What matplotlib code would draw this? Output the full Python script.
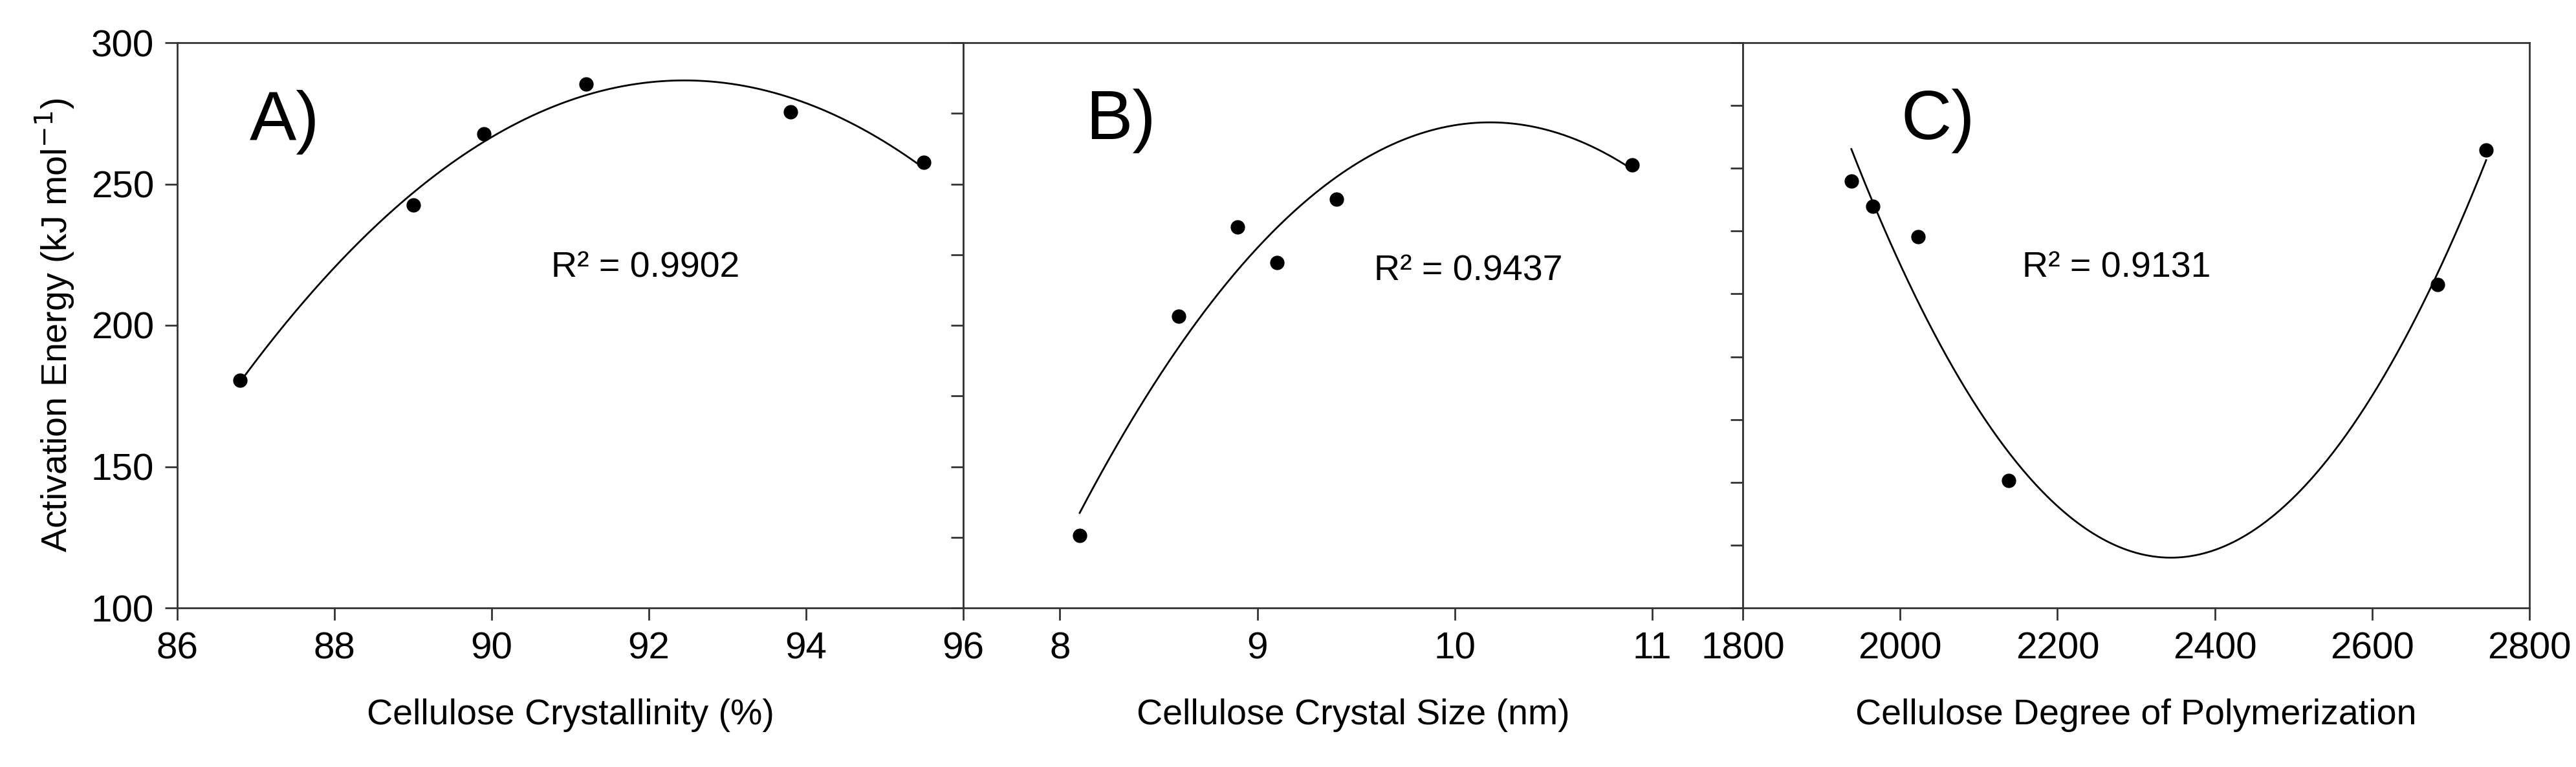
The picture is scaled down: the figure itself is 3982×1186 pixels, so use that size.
import numpy as np
import matplotlib
matplotlib.use("Agg")
import matplotlib.pyplot as plt

plt.rcParams['font.family'] = ['Liberation Sans', 'DejaVu Sans']

crys_x = [86.8, 89.0, 89.9, 91.2, 93.8, 95.5]
crys_y = [180.5, 242.5, 267.7, 285.3, 275.6, 257.7]
size_x = [8.10, 8.60, 8.90, 9.10, 9.40, 10.90]
size_y = [125.6, 203.3, 234.7, 222.3, 244.7, 256.8]
dp_x = [1938, 1965, 2023, 2138, 2683, 2745]
dp_y = [251.1, 242.1, 231.3, 145.1, 214.5, 262.0]
r2_labels = ["R² = 0.9902", "R² = 0.9437", "R² = 0.9131"]
panel_labels = ["A)", "B)", "C)"]
xlabels = ["Cellulose Crystallinity (%)", "Cellulose Crystal Size (nm)",
           "Cellulose Degree of Polymerization"]

fig = plt.figure(figsize=(39.82, 11.86), dpi=100)
W, H = 3982, 1186
bottom = 1 - 940 / H
height = (940 - 66) / H
edges = [274, 1489, 2694, 3910]
axes = [fig.add_axes([edges[i] / W, bottom, (edges[i + 1] - edges[i]) / W, height]) for i in range(3)]

datasets = [(crys_x, crys_y), (size_x, size_y), (dp_x, dp_y)]
xlims = [(86, 96), (7.51, 11.46), (1800, 2800)]
xticks = [np.arange(86, 97, 2), [8, 9, 10, 11], np.arange(1800, 2801, 200)]
yticks = [np.arange(100, 301, 50), np.arange(100, 301, 25), np.linspace(100, 300, 10)]
panel_pos = [(86.92, 265.5), (8.13, 266), (2001, 266)]
r2_pos = [(90.76, 217), (9.59, 216), (2155, 217)]

for i, ax in enumerate(axes):
    x, y = np.array(datasets[i][0], float), np.array(datasets[i][1], float)
    c = np.polyfit(x, y, 2)
    xx = np.linspace(x.min(), x.max(), 300)
    ax.plot(xx, np.polyval(c, xx), color='black', lw=2)
    ax.plot(x, y, 'o', color='black', ms=15)
    ax.set_xlim(*xlims[i])
    ax.set_ylim(100, 300)
    ax.set_xticks(xticks[i])
    ax.set_yticks(yticks[i])
    ax.tick_params(direction='out', length=14, width=2, labelsize=42, pad=12, color='#333333')
    if i > 0:
        ax.set_yticklabels([])
    for s in ax.spines.values():
        s.set_linewidth(2)
        s.set_color('#333333')
    ax.set_xlabel(xlabels[i], fontsize=40, labelpad=36)
    ax.text(*panel_pos[i], panel_labels[i], fontsize=78)
    ax.text(*r2_pos[i], r2_labels[i], fontsize=40)

axes[0].set_ylabel("Activation Energy (kJ mol$^{-1}$)", fontsize=40, labelpad=16)

fig.savefig("out.png", dpi=100)
